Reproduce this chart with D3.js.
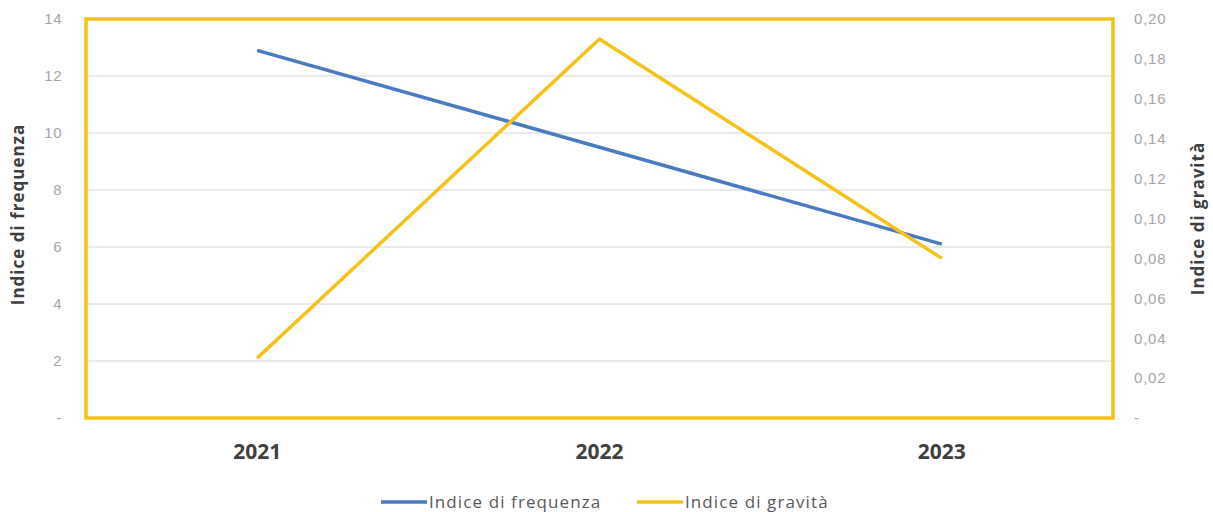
<!DOCTYPE html>
<html>
<head>
<meta charset="utf-8">
<script src="https://cdn.jsdelivr.net/npm/d3@7"></script>
<style>
  html, body { margin: 0; padding: 0; background: #fff; }
  svg { display: block; font-family: "Open Sans", "DejaVu Sans", sans-serif; }
</style>
</head>
<body>
<svg id="chart" width="1213" height="512"></svg>
<script>
// Data
const years = ["2021", "2022", "2023"];
const frequenza = [12.9, 9.5, 6.1];
const gravita = [0.03, 0.19, 0.08];
const leftTicks = [0, 2, 4, 6, 8, 10, 12, 14];
const rightTicks = [0, 0.02, 0.04, 0.06, 0.08, 0.10, 0.12, 0.14, 0.16, 0.18, 0.20];
const seriesNames = ["Indice di frequenza", "Indice di gravità"];

const blue = "#4a7ac0";
const yellow = "#f5c21a";

const svg = d3.select("#chart");
const plot = { left: 86, right: 1113, top: 19, bottom: 418 };

const x = d3.scalePoint().domain(years).range([plot.left, plot.right]).padding(0.5);
const yL = d3.scaleLinear().domain([0, 14]).range([plot.bottom, plot.top]);
const yR = d3.scaleLinear().domain([0, 0.20]).range([plot.bottom, plot.top]);

// Gridlines
svg.append("g")
  .selectAll("line")
  .data(leftTicks.filter(d => d > 0 && d < 14))
  .join("line")
  .attr("x1", plot.left).attr("x2", plot.right)
  .attr("y1", d => yL(d)).attr("y2", d => yL(d))
  .attr("stroke", "#d4d4d4").attr("stroke-width", 1);

// Left axis
const fmtL = d => d === 0 ? "-" : String(d);
const axL = svg.append("g")
  .attr("transform", `translate(62,0)`)
  .call(d3.axisLeft(yL).tickValues(leftTicks).tickFormat(fmtL).tickSize(0).tickPadding(0));
axL.select(".domain").remove();
axL.selectAll("text").attr("fill", "#a6a6a6").style("font-size", "15px").style("letter-spacing", "0.5px");

// Right axis
const fmtR = d => d === 0 ? "-" : d.toFixed(2).replace(".", ",");
const axR = svg.append("g")
  .attr("transform", `translate(1134,0)`)
  .call(d3.axisRight(yR).tickValues(rightTicks).tickFormat(fmtR).tickSize(0).tickPadding(0));
axR.select(".domain").remove();
axR.selectAll("text").attr("fill", "#a6a6a6").style("font-size", "15px").style("letter-spacing", "0.8px");

// X axis labels
svg.append("g")
  .selectAll("text")
  .data(years)
  .join("text")
  .attr("x", d => x(d)).attr("y", 459)
  .attr("text-anchor", "middle")
  .attr("fill", "#404040")
  .style("font-size", "21px").style("font-weight", "bold")
  .text(d => d);

// Axis titles
svg.append("text")
  .attr("transform", `translate(24,${(plot.top + plot.bottom) / 2 - 4}) rotate(-90)`)
  .attr("text-anchor", "middle")
  .attr("fill", "#404040")
  .style("font-size", "17px").style("font-weight", "bold").style("letter-spacing", "1px")
  .text("Indice di frequenza");
svg.append("text")
  .attr("transform", `translate(1204,${(plot.top + plot.bottom) / 2}) rotate(-90)`)
  .attr("text-anchor", "middle")
  .attr("fill", "#404040")
  .style("font-size", "17px").style("font-weight", "bold").style("letter-spacing", "1px")
  .text("Indice di gravità");

// Lines
const lineL = d3.line().x((d, i) => x(years[i])).y(d => yL(d));
const lineR = d3.line().x((d, i) => x(years[i])).y(d => yR(d));

svg.append("path").datum(frequenza)
  .attr("d", lineL).attr("fill", "none")
  .attr("stroke", blue).attr("stroke-width", 3.5).attr("stroke-linejoin", "round");
svg.append("path").datum(gravita)
  .attr("d", lineR).attr("fill", "none")
  .attr("stroke", yellow).attr("stroke-width", 3.5).attr("stroke-linejoin", "round");

// Plot frame
svg.append("rect")
  .attr("x", plot.left).attr("y", plot.top)
  .attr("width", plot.right - plot.left).attr("height", plot.bottom - plot.top)
  .attr("fill", "none").attr("stroke", yellow).attr("stroke-width", 3.5);

// Legend
const legend = svg.append("g");
const legendItems = [
  { name: seriesNames[0], color: blue, x: 381 },
  { name: seriesNames[1], color: yellow, x: 637 }
];
legendItems.forEach(it => {
  legend.append("line")
    .attr("x1", it.x).attr("x2", it.x + 46)
    .attr("y1", 502).attr("y2", 502)
    .attr("stroke", it.color).attr("stroke-width", 3.5);
  legend.append("text")
    .attr("x", it.x + 48).attr("y", 508)
    .attr("fill", "#595959")
    .style("font-size", "17px").style("letter-spacing", "1.1px")
    .text(it.name);
});
</script>
</body>
</html>
